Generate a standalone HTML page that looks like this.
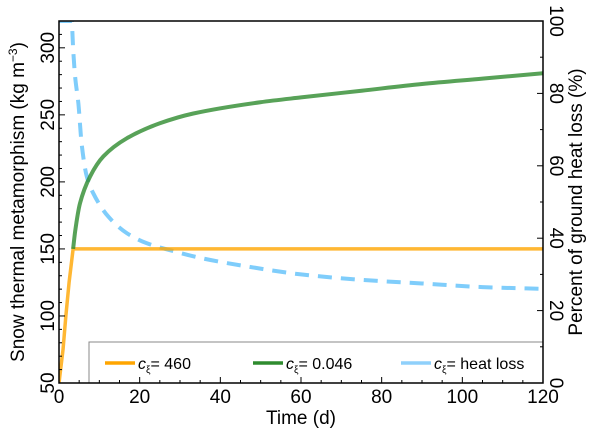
<!DOCTYPE html>
<html><head><meta charset="utf-8"><style>
body{margin:0;background:#fff;}
svg{display:block;font-family:"Liberation Sans",sans-serif;}
</style></head><body>
<svg id="chart" width="600" height="437"></svg>
<script>
const xTicks=[0,20,40,60,80,100,120];
const yLeftTicks=[50,100,150,200,250,300];
const yRightTicks=[0,20,40,60,80,100];
const orangeT=[0,1,1.7,2.5,3.5,120];
const orangeV=[50,75,100,125,150,150];
const greenT=[3.5,4,5.2,7.7,11,16.8,25,33.3,49.9,60,75,90,105,120];
const greenV=[150,163,184,204,219,232.5,243.7,251,259.4,263,268,273,277,281];
const blueT=[3.2,3.5,4,4.8,5.6,6.9,8.5,12.2,16.8,21.8,27.5,35.7,45,60,75,90,105,120];
const blueV=[100,92.5,84.6,77.3,66.2,57,52.4,46,41.4,38.6,36.7,34.4,32.5,30,28.5,27.5,26.5,26];
const L=59,R=543,T=21,B=383;
const sx=t=>L+(t/120)*(R-L);
const syL=v=>B-(v-50)/(320-50)*(B-T);
const syR=v=>B-v/100*(B-T);
const svg=document.getElementById('chart');
const NS='http://www.w3.org/2000/svg';
function mk(tag,attrs,parent){const e=document.createElementNS(NS,tag);for(const k in attrs)e.setAttribute(k,attrs[k]);(parent||svg).appendChild(e);return e;}
function mono(pts){const n=pts.length;const dx=[],dy=[],m=[];for(let i=0;i<n-1;i++){dx.push(pts[i+1][0]-pts[i][0]);dy.push(pts[i+1][1]-pts[i][1]);m.push(dy[i]/dx[i]);}
const tg=[m[0]];for(let i=1;i<n-1;i++){if(m[i-1]*m[i]<=0)tg.push(0);else{const w1=2*dx[i]+dx[i-1],w2=dx[i]+2*dx[i-1];tg.push((w1+w2)/(w1/m[i-1]+w2/m[i]));}}tg.push(m[n-2]);
let d='M'+pts[0][0]+','+pts[0][1];for(let i=0;i<n-1;i++){const h=dx[i]/3;d+=` C${pts[i][0]+h},${pts[i][1]+tg[i]*h} ${pts[i+1][0]-h},${pts[i+1][1]-tg[i+1]*h} ${pts[i+1][0]},${pts[i+1][1]}`;}return d;}
const defs=mk('defs',{});const cp=mk('clipPath',{id:'clip'},defs);mk('rect',{x:L,y:T,width:R-L,height:B-T},cp);
const g=mk('g',{'clip-path':'url(#clip)'});
let p=mk('path',{d:'M'+sx(0)+','+syR(100)+' L'+sx(blueT[0])+','+syR(100)+' '+mono(blueT.map((t,i)=>[sx(t),syR(blueV[i])])).replace(/^M/,'L'),fill:'none',stroke:'#7fcdfb','stroke-width':4,'stroke-dasharray':'14,9'},g);

p=mk('path',{d:'M'+orangeT.map((t,i)=>sx(t)+','+syL(orangeV[i])).join(' L'),fill:'none',stroke:'#ffa500','stroke-width':3.5,'stroke-opacity':0.8},g);

p=mk('path',{d:mono(greenT.map((t,i)=>[sx(t),syL(greenV[i])])),fill:'none',stroke:'#2e8b2e','stroke-width':4,'stroke-opacity':0.8},g);

const lg=mk('g',{});
mk('rect',{x:89,y:342,width:R-89,height:41,fill:'#fff',stroke:'#888','stroke-width':1},lg);
const leg=[['#ffa500','= 460',105],['#2e8b2e','= 0.046',253],['#8fd0fb','= heat loss',401]];
leg.forEach(([c,txt,x])=>{mk('line',{x1:x,x2:x+30,y1:363,y2:363,stroke:c,'stroke-width':3.5},lg);const t=mk('text',{x:x+33,y:369,'font-size':16},lg);t.innerHTML='<tspan font-style="italic">c</tspan><tspan font-size="10" dy="4">ξ</tspan><tspan dy="-4">'+txt+'</tspan>';});
const fr=mk('rect',{x:L,y:T,width:R-L,height:B-T,fill:'none',stroke:'#000','stroke-width':1.5});
for(let t=0;t<=120;t+=5){const maj=t%20==0;mk('line',{x1:sx(t),x2:sx(t),y1:B,y2:B-(maj?6:3),stroke:'#000'});}
for(let v=50;v<=320;v+=10){const maj=v%50==0;mk('line',{x1:L,x2:L+(maj?6:3),y1:syL(v),y2:syL(v),stroke:'#000'});}
for(let v=0;v<=100;v+=10){const maj=v%20==0;mk('line',{x1:R,x2:R-(maj?6:3),y1:syR(v),y2:syR(v),stroke:'#000'});}
xTicks.forEach(t=>{const e=mk('text',{x:sx(t),y:B+20,'font-size':19,'text-anchor':'middle'});e.textContent=t;});
yLeftTicks.forEach(v=>{const e=mk('text',{transform:`translate(${L-5},${syL(v)}) rotate(-90)`,'font-size':19,'text-anchor':'middle'});e.textContent=v;});
yRightTicks.forEach(v=>{const e=mk('text',{transform:`translate(${R+7},${syR(v)}) rotate(90)`,'font-size':19,'text-anchor':'middle'});e.textContent=v;});
let e=mk('text',{x:(L+R)/2,y:424,'font-size':19,'text-anchor':'middle'});e.textContent='Time (d)';
e=mk('text',{transform:`translate(24,${(T+B)/2}) rotate(-90)`,'font-size':19,'text-anchor':'middle'});e.innerHTML='Snow thermal metamorphism (kg m<tspan font-size="12" dy="-7">−3</tspan><tspan dy="7">)</tspan>';
e=mk('text',{transform:`translate(582,${(T+B)/2}) rotate(-90)`,'font-size':19,'text-anchor':'middle'});e.textContent='Percent of ground heat loss (%)';
</script>
</body></html>
